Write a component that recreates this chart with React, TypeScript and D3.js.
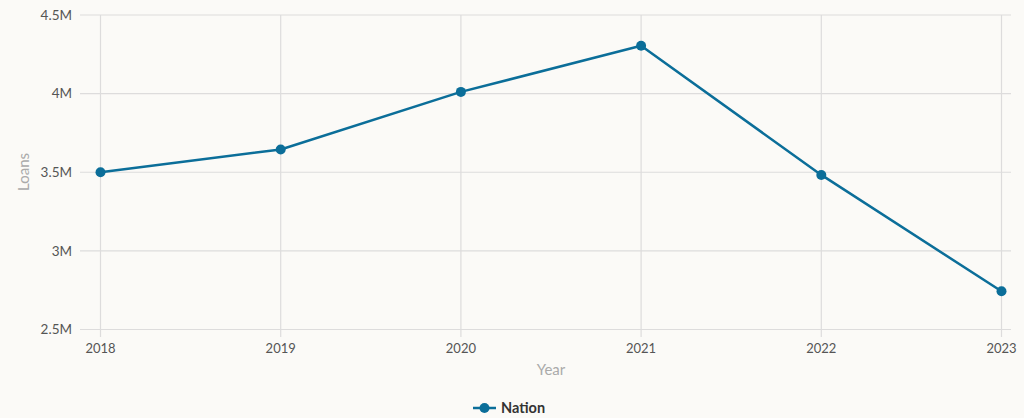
import React from "react";
import * as d3 from "d3";

const years = ["2018", "2019", "2020", "2021", "2022", "2023"];
const nation = [3500000, 3645000, 4011000, 4304000, 3483000, 2743000];
const yTicks = [2500000, 3000000, 3500000, 4000000, 4500000];
const seriesName = "Nation";

const W = 1024;
const H = 418;
const BG = "#fbfaf7";
const LINE = "#0b6e99";
const GRID = "#dddcdc";
const FONT = "Lato, 'Noto Sans', sans-serif";

export default function App() {
  const gridLeft = 80;
  const gridRight = 1011;
  const x = d3.scalePoint<string>().domain(years).range([100.5, 1001.5]);
  const y = d3.scaleLinear().domain([2500000, 4500000]).range([329.5, 15]);
  const fmt = (v: number) => `${+(v / 1e6).toFixed(1)}M`;
  const line = d3
    .line<number>()
    .x((_, i) => x(years[i]) as number)
    .y((d) => y(d));

  return (
    <svg
      width={W}
      height={H}
      style={{ position: "absolute", left: 0, top: 0, background: BG }}
      fontFamily={FONT}
    >
      <rect x={0} y={0} width={W} height={H} fill={BG} />
      {yTicks.map((t) => (
        <g key={t}>
          <line x1={gridLeft} x2={gridRight} y1={y(t)} y2={y(t)} stroke={GRID} strokeWidth={1.2} />
          <text x={72} y={y(t)} dy="0.35em" textAnchor="end" fontSize={13.5} fill="#555">
            {fmt(t)}
          </text>
        </g>
      ))}
      {years.map((yr) => (
        <g key={yr}>
          <line x1={x(yr)} x2={x(yr)} y1={y(4500000)} y2={337} stroke={GRID} strokeWidth={1.2} />
          <text x={x(yr)} y={348} dy="0.35em" textAnchor="middle" fontSize={13} fill="#555">
            {yr}
          </text>
        </g>
      ))}
      <text x={551} y={370} dy="0.35em" textAnchor="middle" fontSize={15} fill="#aaa">
        Year
      </text>
      <text
        transform={`translate(24,172) rotate(-90)`}
        dy="0.35em"
        textAnchor="middle"
        fontSize={15}
        fill="#aaa"
      >
        Loans
      </text>
      <path d={line(nation) || ""} fill="none" stroke={LINE} strokeWidth={2.5} strokeLinejoin="round" />
      {nation.map((v, i) => (
        <circle key={i} cx={x(years[i])} cy={y(v)} r={5} fill={LINE} />
      ))}
      <g>
        <line x1={473} x2={496} y1={408} y2={408} stroke={LINE} strokeWidth={2.5} />
        <circle cx={484.5} cy={408} r={5} fill={LINE} />
        <text x={501} y={408} dy="0.35em" fontSize={14.5} fontWeight="bold" fill="#333">
          {seriesName}
        </text>
      </g>
    </svg>
  );
}
